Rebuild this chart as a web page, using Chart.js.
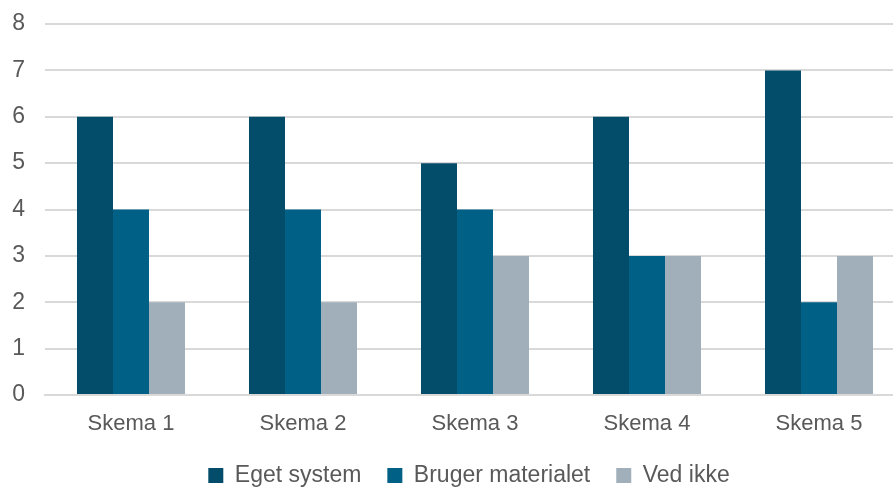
<!DOCTYPE html>
<html>
<head>
<meta charset="utf-8">
<script src="https://cdn.jsdelivr.net/npm/chart.js@4/dist/chart.umd.min.js"></script>
<style>
  html, body { margin: 0; padding: 0; background: #fff; }
  #wrap { width: 893px; height: 487px; }
</style>
</head>
<body>
<div id="wrap"><canvas id="myChart"></canvas></div>
<script>
const skemaer = ['Skema 1', 'Skema 2', 'Skema 3', 'Skema 4', 'Skema 5'];
const egetSystem = [6, 6, 5, 6, 7];
const brugerMaterialet = [4, 4, 4, 3, 2];
const vedIkke = [2, 2, 3, 3, 3];

Chart.defaults.font.family = '"Liberation Sans", Arial, sans-serif';
Chart.defaults.font.size = 23;
Chart.defaults.color = '#595959';

// fixed legend height so the plot keeps its size
const legendHeight = {
    id: 'legendHeight',
    beforeInit(chart) {
        const origFit = chart.legend.fit;
        chart.legend.fit = function () {
            origFit.bind(chart.legend)();
            this.height = 49;
        };
    }
};

// the plot area in the original runs a bit past the right edge
const widenPlot = {
    id: 'widenPlot',
    afterLayout(chart) {
        const x = chart.scales.x;
        x.right += 12;
        x.width += 12;
        chart.chartArea.right += 12;
        chart.chartArea.width += 12;
        x.configure();
    }
};

const ctx = document.getElementById('myChart').getContext('2d');

new Chart(ctx, {
    type: 'bar',
    data: {
        labels: skemaer,
        datasets: [{
            label: 'Eget system',
            data: egetSystem,
            backgroundColor: '#034d6b'
        }, {
            label: 'Bruger materialet',
            data: brugerMaterialet,
            backgroundColor: '#006085'
        }, {
            label: 'Ved ikke',
            data: vedIkke,
            backgroundColor: '#a1afbb'
        }]
    },
    options: {
        responsive: true,
        maintainAspectRatio: false,
        animation: false,
        datasets: {
            bar: {
                categoryPercentage: 0.628,
                barPercentage: 1.0
            }
        },
        layout: {
            padding: { top: 24, right: 0, left: 0, bottom: 0 }
        },
        plugins: {
            tooltip: { enabled: false },
            legend: {
                position: 'bottom',
                fullSize: false,
                labels: {
                    boxWidth: 15,
                    boxHeight: 15,
                    padding: 26,
                    color: '#595959',
                    font: { size: 23 }
                }
            }
        },
        scales: {
            x: {
                grid: { display: false, drawTicks: false },
                border: { color: '#d9d9d9', width: 2 },
                ticks: { padding: 16, color: '#595959', font: { size: 22 } },
                afterFit(scale) {
                    scale.height = 43;
                }
            },
            y: {
                min: 0,
                max: 8,
                ticks: { stepSize: 1, padding: 20, color: '#595959', font: { size: 23 } },
                grid: { color: '#d9d9d9', lineWidth: 2, drawTicks: false },
                border: { display: false },
                afterFit(scale) {
                    scale.width = 45;
                    scale.paddingTop = 0;
                    scale.paddingBottom = 0;
                }
            }
        }
    },
    plugins: [legendHeight, widenPlot]
});
</script>
</body>
</html>
